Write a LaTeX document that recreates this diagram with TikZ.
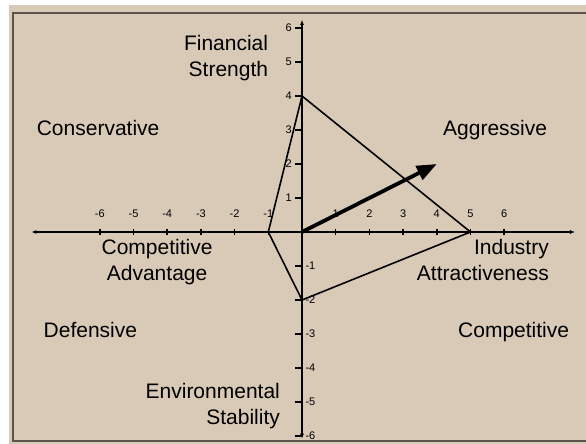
\documentclass[tikz,border=0pt]{standalone}
\usepackage{fontspec}
\setmainfont{Liberation Sans}
\usepackage{tikz}
\usetikzlibrary{positioning}
\usetikzlibrary{arrows.meta,calc}
\definecolor{paper}{HTML}{D9CAB7}
\definecolor{framegray}{HTML}{5C544C}
\tikzstyle{axisline}=[draw,line width=1.8pt,{Latex[length=5pt,width=4pt]}-{Latex[length=5pt,width=4pt]}]
\tikzstyle{vaxisline}=[axisline,line width=2.8pt]
\tikzstyle{tickmark}=[draw,line width=1.5pt]
\tikzstyle{ticklabel}=[font=\fontsize{11}{13}\selectfont,inner sep=0pt]
\tikzstyle{quadrant}=[font=\fontsize{21}{26}\selectfont,inner sep=0pt]
\tikzstyle{axislabel}=[quadrant,align=right]
\tikzstyle{polyedge}=[draw,line width=1.6pt,line join=round]
\tikzstyle{direction}=[draw,line width=3.8pt,-{Triangle[length=20pt,width=15pt]}]

\begin{document}
\begin{tikzpicture}[x=33.7pt,y=34pt]
    % Paper and frame
    \useasboundingbox (-302pt,-212pt) rectangle (284pt,232pt);
    \fill[white] (-302pt,-212pt) rectangle (284pt,232pt);
    \fill[paper] (-293pt,-212pt) rectangle (284pt,227pt);
    \draw[framegray,line width=2pt] (292pt,219.3pt) -- (-289pt,219.3pt) -- (-289pt,-208.7pt) -- (292pt,-208.7pt);

    % Axis end points and the profile vertices
    \coordinate (o) at (0,0);
    \coordinate (west) at (-8.03,0);
    \coordinate (east) at (8.1,0);
    \coordinate (north) at (0,6.24);
    \coordinate (south) at (0,-6.08);
    \coordinate (fs) at (0,4);
    \coordinate (ia) at (5,0);
    \coordinate (es) at (0,-2);
    \coordinate (ca) at (-1,0);
    \coordinate (dv) at (4,2);

    % Tick labels go below the lines
    \foreach \x in {-6,-5,-4,-3,-2,-1,1,2,3,4,5,6}
        \node[ticklabel,anchor=base] (xl\x) at (\x,0.43) {\x};
    \foreach \y in {1,...,6}
        \node[ticklabel,anchor=east] (yl\y) at (-0.3,\y) {\y};
    \foreach \y in {-1,...,-6}
        \node[ticklabel,anchor=west] (yl\y) at (0.1,\y) {\y};

    % Profile
    \path[polyedge] (fs) -- (ia) -- (es) -- (ca) -- cycle;

    % Axes and ticks
    \path[axisline] (west) -- (east);
    \foreach \x in {-6,-5,-4,-3,-2,-1,1,2,3,4,5,6}
        \path[tickmark] (\x,-0.09) -- (\x,0.09);
    \path[vaxisline] (south) -- (north);
    \foreach \y in {-6,-5,-4,-3,-2,-1,1,2,3,4,5,6}
        \path[tickmark] (-0.2,\y) -- (0,\y);

    % Quadrants
    \node[quadrant,anchor=base] (cons) at (-6.05,2.84) {Conservative};
    \node[quadrant,anchor=base] (aggr) at (5.73,2.84) {Aggressive};
    \node[quadrant,anchor=base] (defn) at (-6.28,-3.10) {Defensive};
    \node[quadrant,anchor=base] (comp) at (6.28,-3.10) {Competitive};

    % Dimensions
    \node[axislabel,anchor=north east] (fin) at (-1.0,5.78) {Financial\\Strength};
    \node[quadrant,align=center,anchor=north] (adv) at (-4.3,-0.22) {Competitive\\Advantage};
    \node[axislabel,anchor=north east] (ind) at (7.33,-0.22) {Industry\\Attractiveness};
    \node[axislabel,anchor=north east] (env) at (-0.65,-4.43) {Environmental\\Stability};

    % Direction vector
    \path[direction] (o) -- (dv);
\end{tikzpicture}
\end{document}
